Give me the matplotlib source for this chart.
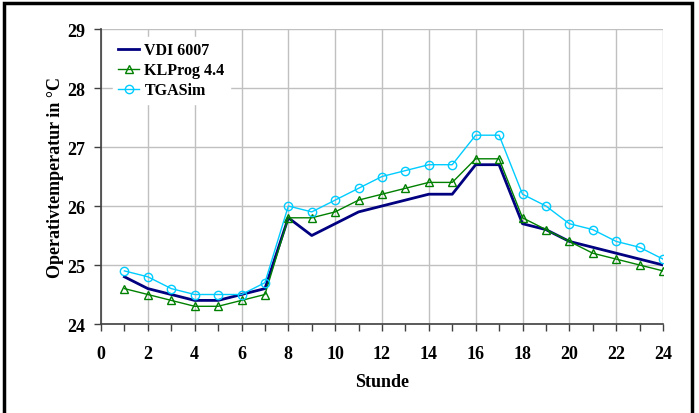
import matplotlib
matplotlib.use("Agg")
import matplotlib.pyplot as plt
from matplotlib.patches import Rectangle

plt.rcParams['font.family'] = ['Liberation Serif', 'DejaVu Serif']
plt.rcParams['font.weight'] = 'bold'

# Stunden 1..24
stunde = list(range(1, 25))
vdi = [24.8, 24.6, 24.5, 24.4, 24.4, 24.5, 24.6, 25.8, 25.5, 25.7, 25.9, 26.0,
       26.1, 26.2, 26.2, 26.7, 26.7, 25.7, 25.6, 25.4, 25.3, 25.2, 25.1, 25.0]
klprog = [24.6, 24.5, 24.4, 24.3, 24.3, 24.4, 24.5, 25.8, 25.8, 25.9, 26.1, 26.2,
          26.3, 26.4, 26.4, 26.8, 26.8, 25.8, 25.6, 25.4, 25.2, 25.1, 25.0, 24.9]
tgasim = [24.9, 24.8, 24.6, 24.5, 24.5, 24.5, 24.7, 26.0, 25.9, 26.1, 26.3, 26.5,
          26.6, 26.7, 26.7, 27.2, 27.2, 26.2, 26.0, 25.7, 25.6, 25.4, 25.3, 25.1]

fig = plt.figure(figsize=(6.99, 4.14), dpi=100)
W, H = 699, 414
ax = fig.add_axes([101 / W, 1 - 325 / H, (663 - 101) / W, (325 - 30) / H])

ax.plot(stunde, vdi, color='#000080', lw=2, label='VDI 6007', zorder=3)
ax.plot(stunde, klprog, color='#008000', lw=1, marker='^', ms=6, mfc='none',
        mec='#008000', mew=1, label='KLProg 4.4', zorder=4)
ax.plot(stunde, tgasim, color='#00ccff', lw=1, marker='o', ms=6, mfc='none',
        mec='#00ccff', mew=1, label='TGASim', zorder=5)

ax.set_xlim(0, 24)
ax.set_ylim(24, 29)
ax.set_xticks(range(0, 25, 2))
ax.set_xticks(range(0, 25, 1), minor=True)
ax.set_yticks(range(24, 30))
ax.grid(True, which='major', color='#c0c0c0', lw=1)
ax.set_axisbelow(True)
for s in ['top', 'right']:
    ax.spines[s].set_visible(False)
for s in ['left', 'bottom']:
    ax.spines[s].set_color('#404040')
    ax.spines[s].set_linewidth(1.2)
ax.tick_params(which='both', direction='out', length=5, width=1, color='#404040',
               labelsize=13, pad=6)
ax.tick_params(axis='x', pad=10)

ax.set_xlabel('Stunde', fontsize=13, fontweight='bold', labelpad=8)
ax.set_ylabel('Operativtemperatur in °C', fontsize=13, fontweight='bold', labelpad=3)

leg = ax.legend(loc='upper left', bbox_to_anchor=(0.012, 0.99), frameon=True,
                fontsize=11.5, handlelength=1.3, borderpad=0.35, labelspacing=0.25,
                handletextpad=0.35, borderaxespad=0.3)
leg.get_frame().set_edgecolor('white')
leg.get_frame().set_facecolor('white')
leg.get_frame().set_alpha(1)
leg.get_frame().set_boxstyle('square', pad=0)
for t in leg.get_texts():
    t.set_fontweight('bold')

fig.patches.append(Rectangle((4 / W, -0.05), (692 - 4) / W, 1.05 - 4 / H,
                             transform=fig.transFigure, fill=False,
                             edgecolor='black', lw=2.5))

fig.savefig('out.png', dpi=100)
